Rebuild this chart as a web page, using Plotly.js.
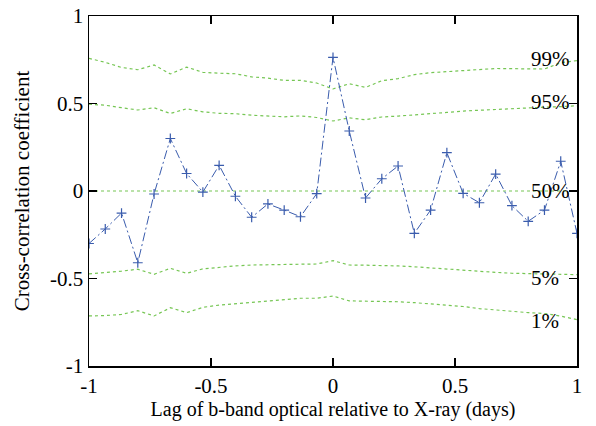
<!DOCTYPE html>
<html>
<head>
<meta charset="utf-8">
<script src="https://cdn.plot.ly/plotly-3.0.1.min.js"></script>
<style>html,body{margin:0;padding:0;background:#fff;}#plot{width:596px;height:426px;}</style>
</head>
<body>
<div id="plot"></div>
<script>
// lags: -1 .. 1 in steps of 1/15
const lags = [-1, -0.9333, -0.8667, -0.8, -0.7333, -0.6667, -0.6, -0.5333, -0.4667, -0.4, -0.3333,
  -0.2667, -0.2, -0.1333, -0.0667, 0, 0.0667, 0.1333, 0.2, 0.2667, 0.3333,
  0.4, 0.4667, 0.5333, 0.6, 0.6667, 0.7333, 0.8, 0.8667, 0.9333, 1];

const ccf = [-0.30, -0.217, -0.126, -0.41, -0.017, 0.30, 0.10, -0.006, 0.147, -0.03, -0.15,
  -0.074, -0.109, -0.147, -0.015, 0.764, 0.343, -0.04, 0.07, 0.143, -0.242,
  -0.109, 0.219, -0.013, -0.067, 0.097, -0.084, -0.173, -0.109, 0.17, -0.242];

const p99 = [0.758, 0.735, 0.706, 0.693, 0.72, 0.669, 0.708, 0.678, 0.673, 0.67, 0.652,
  0.645, 0.632, 0.632, 0.617, 0.583, 0.613, 0.592, 0.63, 0.642, 0.665,
  0.676, 0.682, 0.688, 0.697, 0.70, 0.699, 0.697, 0.697, 0.733, 0.745];

const p95 = [0.496, 0.49, 0.476, 0.463, 0.476, 0.443, 0.47, 0.452, 0.444, 0.442, 0.433,
  0.43, 0.424, 0.429, 0.42, 0.40, 0.418, 0.407, 0.423, 0.428, 0.434,
  0.44, 0.449, 0.457, 0.462, 0.468, 0.472, 0.475, 0.479, 0.482, 0.487];

const p50 = [0, 0, 0, 0, 0, 0, 0, 0, 0, 0, 0,
  0, 0, 0, 0, 0, 0, 0, 0, 0, 0,
  0, 0, 0, 0, 0, 0, 0, 0, 0, 0];

const p05 = [-0.474, -0.468, -0.458, -0.447, -0.476, -0.442, -0.47, -0.445, -0.435, -0.428, -0.423,
  -0.422, -0.421, -0.42, -0.417, -0.398, -0.423, -0.424, -0.425, -0.428, -0.433,
  -0.44, -0.446, -0.452, -0.46, -0.465, -0.47, -0.472, -0.475, -0.477, -0.478];

const p01 = [-0.714, -0.712, -0.705, -0.684, -0.714, -0.667, -0.695, -0.665, -0.652, -0.645, -0.638,
  -0.63, -0.622, -0.613, -0.613, -0.60, -0.628, -0.629, -0.629, -0.633, -0.638,
  -0.645, -0.652, -0.66, -0.672, -0.68, -0.69, -0.695, -0.70, -0.715, -0.735];

const levelNames = ["99%", "95%", "50%", "5%", "1%"];
const levelLabelY = [0.754, 0.509, 0.0, -0.497, -0.743];
const levels = [p99, p95, p50, p05, p01];

const xTicks = [-1, -0.5, 0, 0.5, 1];
const yTicks = [-1, -0.5, 0, 0.5, 1];

const green = "#76c654";
const blue = "#3a5cad";
const font = "Liberation Serif, Times New Roman, serif";

const traces = levels.map((v, i) => ({
  x: lags, y: v, type: "scatter", mode: "lines",
  line: {color: green, width: 1.2, dash: "3px,3px"},
  hoverinfo: "skip", showlegend: false
}));
traces.push({
  x: lags, y: ccf, type: "scatter", mode: "lines+markers",
  line: {color: blue, width: 1, dash: "9px,3px,2px,3px"},
  marker: {symbol: "cross-thin", size: 7, line: {color: blue, width: 1.2}, color: blue},
  showlegend: false
});

const annotations = levelNames.map((t, i) => ({
  x: 0.803, y: levelLabelY[i], xref: "x", yref: "y",
  text: t, showarrow: false, xanchor: "left", yanchor: "middle",
  font: {family: font, size: 21, color: "#000"}
}));

const axisCommon = {
  showgrid: false, zeroline: false, showline: true, linecolor: "#000", linewidth: 1.5,
  mirror: "ticks", ticks: "inside", ticklen: 8, tickwidth: 1.5, tickcolor: "#000",
  tickfont: {family: font, size: 21, color: "#000"}
};

const layout = {
  width: 596, height: 426,
  margin: {l: 89, r: 19, t: 16, b: 60},
  paper_bgcolor: "#fff", plot_bgcolor: "#fff",
  xaxis: Object.assign({}, axisCommon, {
    range: [-1, 1], tickvals: xTicks, ticktext: xTicks.map(String),
    title: {text: "Lag of b-band optical relative to X-ray (days)", font: {family: font, size: 20, color: "#000"}, standoff: 4}
  }),
  yaxis: Object.assign({}, axisCommon, {
    range: [-1, 1], tickvals: yTicks, ticktext: yTicks.map(String),
    title: {text: "Cross-correlation coefficient", font: {family: font, size: 21, color: "#000"}, standoff: 14}
  }),
  annotations: annotations
};

Plotly.newPlot("plot", traces, layout, {displayModeBar: false, staticPlot: true});
</script>
</body>
</html>
